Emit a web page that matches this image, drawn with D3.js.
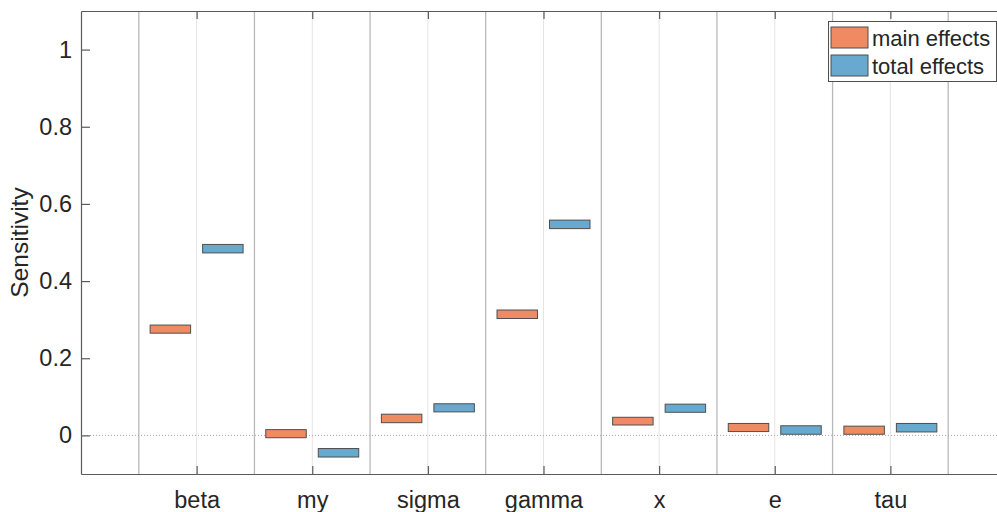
<!DOCTYPE html>
<html>
<head>
<meta charset="utf-8">
<script src="https://cdn.jsdelivr.net/npm/d3@7"></script>
<style>
  body { margin: 0; background: #fff; }
  svg { display: block; font-family: "Liberation Sans", Arial, sans-serif; }
</style>
</head>
<body>
<svg width="997" height="512"></svg>
<script>
// parameters and box limits (lower / upper edge of each box)
var params = ["beta", "my", "sigma", "gamma", "x", "e", "tau"];
var mainLo = [0.265, -0.006, 0.033, 0.303, 0.027, 0.010, 0.003];
var mainHi = [0.286, 0.015, 0.055, 0.325, 0.047, 0.031, 0.024];
var totalLo = [0.473, -0.056, 0.061, 0.536, 0.060, 0.003, 0.009];
var totalHi = [0.495, -0.034, 0.082, 0.558, 0.081, 0.025, 0.031];
var yTicks = [0, 0.2, 0.4, 0.6, 0.8, 1];
var seriesNames = ["main effects", "total effects"];
var seriesColors = ["#ef8a62", "#67a9cf"];

var svg = d3.select("svg");
var axL = 81, axR = 1006, axT = 11, axB = 474;

var x = d3.scaleLinear().domain([0, params.length + 1]).range([axL, axR]);
var y = d3.scaleLinear().domain([-0.1, 1.1]).range([axB, axT]);

// group centre lines and separators
var idx = d3.range(params.length);
svg.append("g").selectAll("line")
  .data(idx.map(function(i) { return i + 1; }))
  .enter().append("line")
  .attr("x1", function(d) { return x(d); }).attr("x2", function(d) { return x(d); })
  .attr("y1", axT).attr("y2", axB)
  .attr("stroke", "#e4e4e4").attr("stroke-width", 1);
svg.append("g").selectAll("line")
  .data(d3.range(params.length + 1).map(function(i) { return i + 0.5; }))
  .enter().append("line")
  .attr("x1", function(d) { return x(d); }).attr("x2", function(d) { return x(d); })
  .attr("y1", axT).attr("y2", axB)
  .attr("stroke", "#b9b9b9").attr("stroke-width", 1.3);

// zero line
svg.append("line")
  .attr("x1", axL).attr("x2", axR)
  .attr("y1", y(0)).attr("y2", y(0))
  .attr("stroke", "#a8a8a8").attr("stroke-width", 1)
  .attr("stroke-dasharray", "1,2");

// boxes
var boxW = 0.35, off = 0.227;
function drawBoxes(lo, hi, dx, color) {
  svg.append("g").selectAll("rect")
    .data(idx)
    .enter().append("rect")
    .attr("x", function(i) { return x(i + 1 + dx - boxW / 2); })
    .attr("width", function() { return x(boxW) - x(0); })
    .attr("y", function(i) { return y(hi[i]); })
    .attr("height", function(i) { return y(lo[i]) - y(hi[i]); })
    .attr("fill", color)
    .attr("stroke", "#4f4f4f").attr("stroke-width", 1);
}
drawBoxes(mainLo, mainHi, -off, seriesColors[0]);
drawBoxes(totalLo, totalHi, off, seriesColors[1]);

// axes
var axisColor = "#5a5a5a";
var yAxis = svg.append("g")
  .attr("transform", "translate(" + axL + ",0)")
  .call(d3.axisLeft(y).tickValues(yTicks).tickSizeInner(-9).tickSizeOuter(0).tickPadding(9)
    .tickFormat(function(d) { return d3.format("~g")(d); }));
var yAxisR = svg.append("g")
  .attr("transform", "translate(" + axR + ",0)")
  .call(d3.axisRight(y).tickValues(yTicks).tickSizeInner(-9).tickSizeOuter(0).tickFormat(""));
var xAxis = svg.append("g")
  .attr("transform", "translate(0," + axB + ")")
  .call(d3.axisBottom(x).tickValues(idx.map(function(i) { return i + 1; }))
    .tickSizeInner(-8).tickSizeOuter(0).tickPadding(17)
    .tickFormat(function(d) { return params[d - 1]; }));
var xAxisT = svg.append("g")
  .attr("transform", "translate(0," + axT + ")")
  .call(d3.axisTop(x).tickValues(idx.map(function(i) { return i + 1; }))
    .tickSizeInner(-8).tickSizeOuter(0).tickFormat(""));

[yAxis, yAxisR, xAxis, xAxisT].forEach(function(a) {
  a.select(".domain").attr("stroke", axisColor).attr("stroke-width", 1.2);
  a.selectAll(".tick line").attr("stroke", axisColor).attr("stroke-width", 1.2);
  a.selectAll("text").attr("fill", "#262626").attr("font-size", 23.5)
    .attr("font-family", "Liberation Sans, Arial, sans-serif");
});
xAxis.selectAll("text").attr("dy", "0.71em");

// y label
svg.append("text")
  .attr("transform", "translate(28," + ((axT + axB) / 2) + ") rotate(-90)")
  .attr("text-anchor", "middle")
  .attr("font-size", 24.5)
  .attr("fill", "#262626")
  .text("Sensitivity");

// legend
var lg = svg.append("g").attr("transform", "translate(828,21)");
lg.append("rect")
  .attr("x", 0.5).attr("y", 0.5).attr("width", 168).attr("height", 60)
  .attr("fill", "#fff").attr("stroke", "#4f4f4f").attr("stroke-width", 1);
var items = lg.selectAll("g.item").data(seriesNames).enter().append("g")
  .attr("transform", function(d, i) { return "translate(0," + i * 28 + ")"; });
items.append("rect")
  .attr("x", 3).attr("y", 6).attr("width", 37).attr("height", 21)
  .attr("fill", function(d, i) { return seriesColors[i]; })
  .attr("stroke", "#4f4f4f").attr("stroke-width", 1);
items.append("text")
  .attr("x", 44).attr("y", 17).attr("dy", "0.35em")
  .attr("font-size", 22).attr("fill", "#262626")
  .text(function(d) { return d; });
</script>
</body>
</html>
